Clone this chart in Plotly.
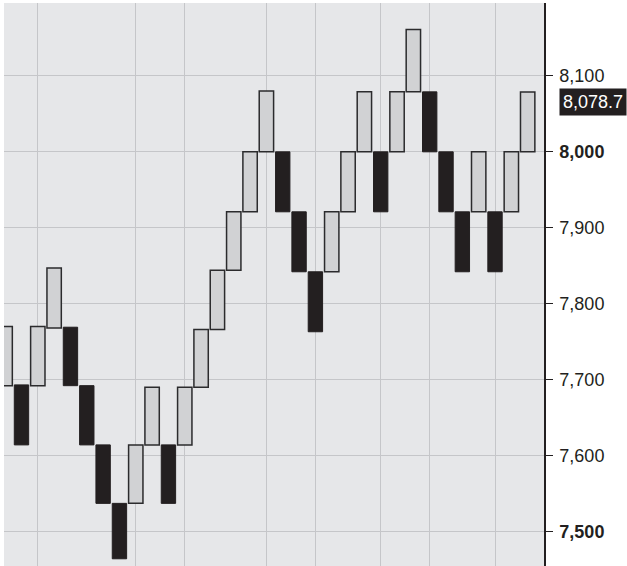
import plotly.graph_objects as go

# renko bricks, left to right: bottom / top of each brick and direction
brick_low = [
    7692, 7614, 7692, 7768, 7692, 7614, 7537, 7464, 7537, 7614, 7537,
    7614, 7690, 7766, 7844, 7921, 8000, 7921, 7842, 7763, 7842, 7921,
    8000, 7921, 8000, 8079, 8000, 7921, 7842, 7921, 7842, 7921, 8000,
]
brick_high = [
    7770, 7693, 7770, 7847, 7769, 7692, 7614, 7537, 7614, 7690, 7614,
    7690, 7766, 7844, 7921, 8000, 8080, 8000, 7921, 7842, 7921, 8000,
    8079, 8000, 8079, 8161, 8079, 8000, 7921, 8000, 7921, 8000, 8078.7,
]
brick_up = [
    True, False, True, True, False, False, False, False, True, True, False,
    True, True, True, True, True, True, False, False, False, True, True,
    True, False, True, True, False, False, False, True, False, True, True,
]

grid_x = [2, 8, 11, 16, 19, 23, 26, 30]
y_ticks = [7500, 7600, 7700, 7800, 7900, 8000, 8100]
y_ticktext = ["<b>7,500</b>", "7,600", "7,700", "7,800", "7,900", "<b>8,000</b>", "8,100"]
last_price = 8078.7

INK = "#231f20"

fig = go.Figure()

for up, fill, line_color, line_width in [(True, "#d1d2d4", "#2b2b2d", 1.5), (False, INK, INK, 1.0)]:
    idx = [i for i, u in enumerate(brick_up) if u == up]
    fig.add_trace(go.Bar(
        x=idx,
        y=[brick_high[i] - brick_low[i] for i in idx],
        base=[brick_low[i] for i in idx],
        width=0.88,
        marker={"color": fill, "line": {"color": line_color, "width": line_width}},
        hoverinfo="skip",
        showlegend=False,
    ))

fig.update_layout(
    width=627,
    height=566,
    margin={"l": 4, "r": 83, "t": 3, "b": 0},
    paper_bgcolor="white",
    plot_bgcolor="#e6e7e9",
    barmode="overlay",
    font={"family": "Liberation Sans, Arial, sans-serif", "size": 18, "color": INK},
    xaxis={
        "range": [-0.07, 33.0],
        "tickvals": grid_x,
        "showticklabels": False,
        "showgrid": True,
        "gridcolor": "#c5c6c9",
        "gridwidth": 1,
        "zeroline": False,
        "ticks": "",
        "automargin": False,
    },
    yaxis={
        "side": "right",
        "range": [7454.5, 8196],
        "tickvals": y_ticks,
        "ticktext": y_ticktext,
        "showgrid": True,
        "gridcolor": "#c5c6c9",
        "gridwidth": 1,
        "zeroline": False,
        "showline": True,
        "linecolor": INK,
        "linewidth": 1.5,
        "ticks": "outside",
        "ticklen": 7,
        "tickwidth": 1.2,
        "tickcolor": INK,
        "ticklabelstandoff": 3,
        "automargin": False,
    },
    annotations=[{
        "xref": "paper",
        "yref": "y",
        "x": 1,
        "y": last_price,
        "xanchor": "left",
        "yanchor": "middle",
        "xshift": 15,
        "yshift": -10,
        "text": f"{last_price:,.1f}",
        "showarrow": False,
        "bgcolor": INK,
        "font": {"color": "white", "size": 18},
        "borderpad": 3,
    }],
)

# the page body has a default margin; drop it so the chart fills the window
fig.write_html(
    "out.html",
    config={"displayModeBar": False},
    post_script="document.body.style.margin = '0';",
)
